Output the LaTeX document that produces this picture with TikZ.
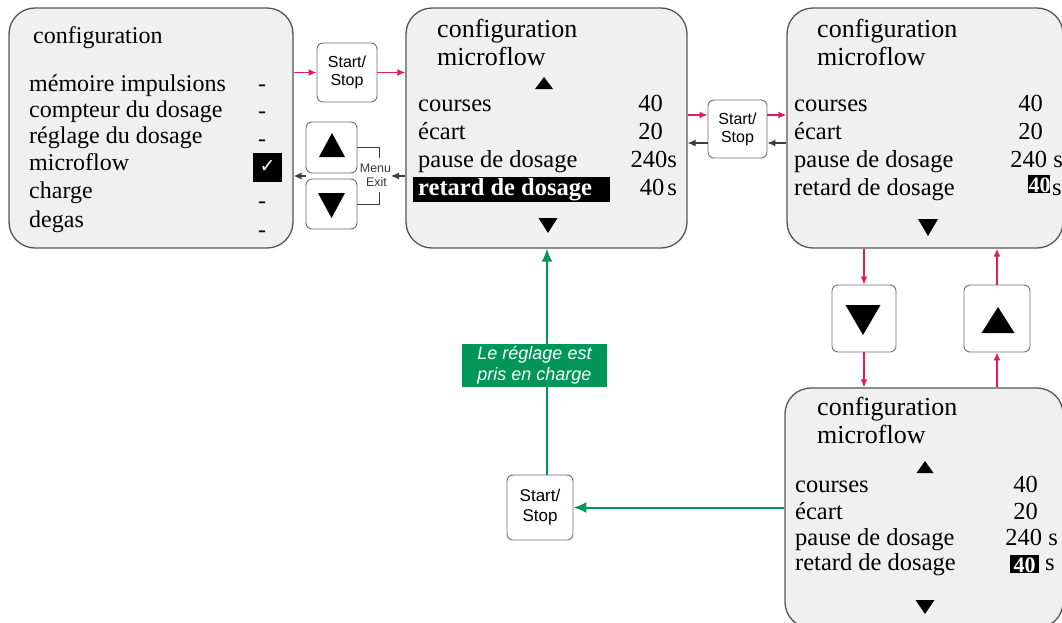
\documentclass[tikz,border=0pt]{standalone}
\usepackage{fontspec}
\setmainfont{Liberation Serif}
\setsansfont{Liberation Sans}
\newfontfamily\djv{DejaVu Sans}
\usetikzlibrary{arrows.meta}
\definecolor{scrfill}{RGB}{240,240,240}
\definecolor{scrline}{RGB}{85,85,85}
\definecolor{btnline}{RGB}{110,110,110}
\definecolor{redarr}{RGB}{226,28,92}
\definecolor{grn}{RGB}{0,150,88}
\definecolor{darkarr}{RGB}{60,60,60}
\newcommand{\tup}[4]{\fill (#1-#3/2,#2+#4) -- (#1,#2) -- (#1+#3/2,#2+#4) -- cycle;}
\newcommand{\tdn}[4]{\fill (#1-#3/2,#2) -- (#1,#2+#4) -- (#1+#3/2,#2) -- cycle;}
\begin{document}
\begin{tikzpicture}[x=1pt,y=-1pt,
  screen/.style={draw=scrline, fill=scrfill, line width=1.3pt, rounded corners=26pt, inner sep=0pt},
  btn/.style={draw=btnline, fill=white, line width=0.9pt, rounded corners=6pt, inner sep=0pt, align=center, font=\sffamily\fontsize{16}{18}\selectfont},
  ttl/.style={anchor=base west, inner sep=0pt, font=\fontsize{26}{28}\selectfont},
  txt/.style={anchor=base west, inner sep=0pt, font=\fontsize{24.5}{27}\selectfont},
  txa/.style={anchor=base west, inner sep=0pt, font=\fontsize{24}{27}\selectfont},
  val/.style={anchor=base east, inner sep=0pt, font=\fontsize{24.5}{27}\selectfont},
  dsh/.style={anchor=base, inner sep=0pt, font=\fontsize{24}{27}\selectfont},
  hltxt/.style={inner sep=0pt, text=white, font=\bfseries\fontsize{22}{24}\selectfont},
  ra/.style={draw=redarr, line width=1.4pt, -{Latex[length=8pt,width=7pt]}},
  da/.style={draw=darkarr, line width=1.1pt, -{Latex[length=8pt,width=7pt]}},
  ga/.style={draw=grn, line width=2pt, -{Latex[length=13pt,width=11pt]}},
  brk/.style={draw=darkarr, line width=0.8pt},
  mtxt/.style={inner sep=0pt, text=darkarr, font=\sffamily\fontsize{12.5}{13}\selectfont}
]
\clip (0,0) rectangle (1062,622);

% ---------- screens ----------
\node[screen, minimum width=284pt, minimum height=240pt] (b1) at (151,128) {};
\node[screen, minimum width=281pt, minimum height=240pt] (b2) at (546.5,128) {};
\node[screen, minimum width=276pt, minimum height=240pt] (b3) at (925,128) {};
\node[screen, minimum width=278pt, minimum height=240pt] (b4) at (924,508) {};

% ---------- screen 1 ----------
\node[txa] (b1t) at (33,43) {configuration};
\node[txa] (b1i1) at (29,91) {mémoire impulsions};
\node[txa] (b1i2) at (29,117) {compteur du dosage};
\node[txa] (b1i3) at (29,143) {réglage du dosage};
\node[txa] (b1i4) at (29,170) {microflow};
\node[txa] (b1i5) at (29,198) {charge};
\node[txa] (b1i6) at (29,227) {degas};
\node[dsh] (d1) at (262,91) {-};
\node[dsh] (d2) at (262,118) {-};
\node[dsh] (d3) at (262,146) {-};
\node[dsh] (d5) at (262,208) {-};
\node[dsh] (d6) at (262,237) {-};
\node[fill=black, minimum size=29pt, inner sep=0pt, text=white, font=\djv\fontsize{19}{19}\selectfont] (chk) at (267.5,167) {✓};

% ---------- screen 2 ----------
\node[ttl] (b2t1) at (437,37) {configuration};
\node[ttl] (b2t2) at (437,65) {microflow};
\tup{544}{77}{18}{12}
\node[txt] (b2i1) at (418,111) {courses};
\node[txt] (b2i2) at (418,139) {écart};
\node[txt] (b2i3) at (418,167) {pause de dosage};
\node[fill=black, minimum width=197pt, minimum height=25pt, inner sep=0pt] (b2hl) at (511.5,189.5) {};
\node[txt, text=white, font=\bfseries\fontsize{24.5}{27}\selectfont] (b2i4) at (418,195) {retard de dosage};
\node[val] (b2v1) at (663,111) {40};
\node[val] (b2v2) at (663,139) {20};
\node[val] (b2v3) at (677,167) {240s};
\node[val] (b2v4) at (677,195) {40\hspace{3pt}s};
\tdn{548}{218}{19}{15}

% ---------- screen 3 ----------
\node[ttl] (b3t1) at (817,37) {configuration};
\node[ttl] (b3t2) at (817,65) {microflow};
\node[txt] (b3i1) at (794,111) {courses};
\node[txt] (b3i2) at (794,139) {écart};
\node[txt] (b3i3) at (794,167) {pause de dosage};
\node[txt] (b3i4) at (794,195) {retard de dosage};
\node[val] (b3v1) at (1043,111) {40};
\node[val] (b3v2) at (1043,139) {20};
\node[val] (b3v3) at (1063,167) {240 s};
\node[fill=black, minimum width=22pt, minimum height=18pt, inner sep=0pt] (b3hl) at (1039,184) {};
\node[hltxt, anchor=base] (b3v4) at (1039.5,192) {40};
\node[txt] (b3s) at (1052,195) {s};
\tdn{928}{219}{20}{17}

% ---------- screen 4 ----------
\node[ttl] (b4t1) at (817,415) {configuration};
\node[ttl] (b4t2) at (817,443) {microflow};
\tup{925}{461}{17}{12}
\node[txt] (b4i1) at (795,492) {courses};
\node[txt] (b4i2) at (795,519) {écart};
\node[txt] (b4i3) at (795,545) {pause de dosage};
\node[txt] (b4i4) at (795,570) {retard de dosage};
\node[val] (b4v1) at (1038,492) {40};
\node[val] (b4v2) at (1038,519) {20};
\node[val] (b4v3) at (1058,545) {240 s};
\node[fill=black, minimum width=29pt, minimum height=18pt, inner sep=0pt] (b4hl) at (1024.5,564) {};
\node[hltxt, anchor=base] (b4v4) at (1024.5,572) {40};
\node[txt] (b4s) at (1045,570) {s};
\tdn{925}{600}{19}{14}

% ---------- buttons ----------
\node[btn, minimum width=60pt, minimum height=59pt] (ss1) at (347,72.5) {Start/\\Stop};
\node[btn, minimum width=51pt, minimum height=51pt] (up1) at (331.5,147.5) {};
\node[btn, minimum width=51pt, minimum height=50pt] (dn1) at (331.5,204) {};
\node[btn, minimum width=59pt, minimum height=58pt] (ss2) at (737.5,129) {Start/\\Stop};
\node[btn, minimum width=64pt, minimum height=67pt] (dn2) at (864,318.5) {};
\node[btn, minimum width=66pt, minimum height=67pt] (up2) at (997,318.5) {};
\node[btn, minimum width=66pt, minimum height=65pt, font=\sffamily\fontsize{17}{20}\selectfont] (ss3) at (540,507.5) {Start/\\Stop};
\tup{332}{133}{26}{24}
\tdn{331.5}{193}{27}{25}
\tdn{863}{305}{35}{30}
\tup{998}{307}{33}{26}

% ---------- menu / exit bracket ----------
\draw[brk] (up1.east) -- (379,147.5) -- (379,158);
\draw[brk] (dn1.east) -- (379,204) -- (379,192);
\node[mtxt] (menu) at (375.5,168) {Menu};
\node[mtxt] (exit) at (376.5,182) {Exit};

% ---------- connectors ----------
\draw[ra] (b1.east |- ss1.west) -- (ss1.west);
\draw[ra] (ss1.east) -- (b2.west |- ss1.east);
\coordinate (mx) at (391,176);
\coordinate (mxl) at (306,176);
\draw[da] (b2.west |- mx) -- (mx);
\draw[da] (mxl) -- (b1.east |- mxl);

\coordinate (s2a) at ([yshift=14pt]ss2.west);
\coordinate (s2b) at ([yshift=14pt]ss2.east);
\coordinate (s2c) at ([yshift=-14pt]ss2.west);
\coordinate (s2d) at ([yshift=-14pt]ss2.east);
\draw[ra] (b2.east |- s2a) -- (s2a);
\draw[ra] (s2b) -- (b3.west |- s2b);
\draw[da] (s2c) -- (b2.east |- s2c);
\draw[da] (b3.west |- s2d) -- (s2d);

\draw[ra] (b3.south -| dn2.north) -- (dn2.north);
\draw[ra] (dn2.south) -- (b4.north -| dn2.south);
\draw[ra] (b4.north -| up2.south) -- (up2.south);
\draw[ra] (up2.north) -- (b3.south -| up2.north);

\draw[ga] (b4.west |- ss3.east) -- (ss3.east);
\coordinate (g0) at ([xshift=7pt]ss3.north);
\draw[ga] (g0) -- (b2.south -| g0);
\node[fill=grn, text=white, font=\sffamily\itshape\fontsize{18}{21}\selectfont, align=center, minimum width=145pt, minimum height=43pt, inner sep=0pt] (lbl) at (534.5,365.5) {Le réglage est\\pris en charge};
\end{tikzpicture}
\end{document}
